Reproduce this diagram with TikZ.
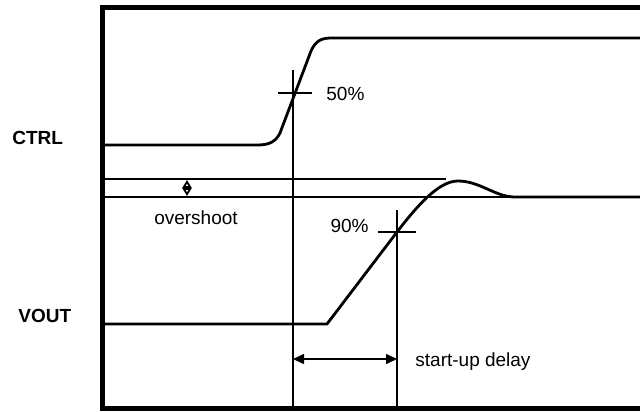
\documentclass[tikz,border=0pt]{standalone}
\usepackage{fontspec}
\setmainfont{Liberation Sans}
\usetikzlibrary{arrows.meta,positioning}
\tikzstyle{border} = [line width=2.5pt, line join=miter]
\tikzstyle{wave}   = [line width=1.4pt, line join=round]
\tikzstyle{guide}  = [line width=0.75pt]
\tikzstyle{lbl}    = [inner sep=0pt, font=\fontsize{9.5}{11}\selectfont]
\tikzstyle{sig}    = [inner sep=0pt, font=\fontsize{9.5}{11}\selectfont\bfseries]
\tikzstyle{span}   = [guide, {Triangle[length=5.5pt,width=5pt]}-{Triangle[length=5.5pt,width=5pt]}]
\tikzstyle{ovs}    = [line width=0.9pt, {Triangle[open,length=4pt,width=4.5pt]}-{Triangle[open,length=4pt,width=4.5pt]}]

\begin{document}
\begin{tikzpicture}[x=0.5pt, y=-0.5pt]
	\useasboundingbox (0,0) rectangle (640,411);
	% frame
	\draw[border] (640,7.5) -- (102,7.5) -- (102,408.5) -- (640,408.5);
	\coordinate (base) at (102,408.5);
	\coordinate (p50) at (293,93);
	\coordinate (p90) at (397,232);
	\coordinate (dl) at (102,359);

	% CTRL
	\node[sig, anchor=base west] (ctrl) at (12,144) {CTRL};
	\draw[wave] (102,145) -- (258,145) .. controls (270,145) and (276,141) .. (280,133)
		-- (311,51) .. controls (316,40) and (322,38) .. (332,38) -- (640,38);

	% VOUT
	\node[sig, anchor=base west] (vout) at (18,322) {VOUT};
	\draw[wave] (102,324) -- (327,324) -- (p90) .. controls (420,202) and (440,181) .. (458,181)
		.. controls (480,181) and (495,197) .. (515,197) -- (640,197);

	% overshoot band
	\draw[guide] (102,179) -- (446,179);
	\draw[guide] (102,197) -- (640,197);
	\coordinate (ovt) at (187,180);
	\coordinate (ovb) at (187,196);
	\draw[ovs] (ovt) -- (ovb);
	\node[lbl, anchor=base] (ovl) at (196,224) {overshoot};

	% 50% and 90% marks
	\draw[guide] (p50) +(0,-23) -- (p50 |- base);
	\draw[guide] (p50) +(-15,0) -- +(19,0);
	\node[lbl, anchor=west] (l50) at (326,94) {50\%};
	\draw[guide] (p90) +(0,-22) -- (p90 |- base);
	\draw[guide] (p90) +(-19,0) -- +(19,0);
	\node[lbl, anchor=east] (l90) at (369,225.5) {90\%};

	% start-up delay
	\draw[span] (p50 |- dl) -- (p90 |- dl);
	\node[lbl, anchor=base west] (ldl) at (415,366) {start-up delay};
\end{tikzpicture}
\end{document}
